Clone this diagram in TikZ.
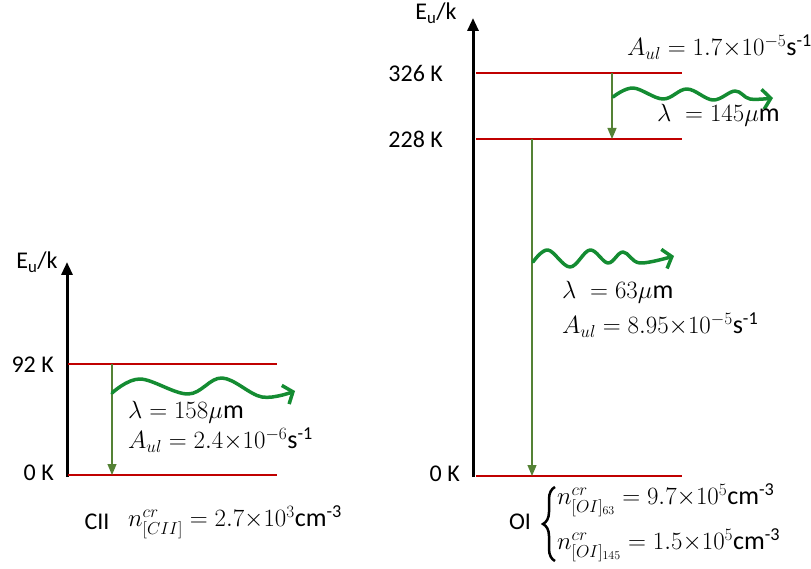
\documentclass[tikz,border=0pt]{standalone}
\usepackage{amsmath}
\usepackage{fontspec}
\setmainfont{Carlito}
\usetikzlibrary{arrows.meta}
\usetikzlibrary{decorations.pathreplacing}
\definecolor{levelred}{RGB}{192,0,0}
\definecolor{decaygreen}{RGB}{84,130,53}
\definecolor{photongreen}{RGB}{20,140,50}

\begin{document}
\begin{tikzpicture}[x=1pt, y=-1pt,
    level/.style={levelred, line width=1.5pt},
    axis/.style={line width=3pt, -{Triangle[length=13pt,width=11pt]}},
    decay/.style={decaygreen, line width=1.2pt, -{Triangle[length=11pt,width=9pt]}},
    photon/.style={photongreen, line width=3.5pt, line cap=round, line join=round,
                   -{Straight Barb[length=8pt,width=20pt,line width=3.5pt]}},
    lbl/.style={font=\fontsize{24}{28}\selectfont, inner sep=0pt},
    mlbl/.style={font=\fontsize{26}{30}\selectfont, inner sep=0pt, anchor=west}]
    \useasboundingbox (0,0) rectangle (811,569);

    % CII axis and levels
    \coordinate (cBot) at (67,477);
    \coordinate (cTop) at (67,262);
    \draw[axis] (cBot) -- (cTop);
    \coordinate (c92L) at (68,364);
    \coordinate (c92R) at (277,364);
    \coordinate (c0L) at (68,475);
    \coordinate (c0R) at (277,475);
    \draw[level] (c92L) -- (c92R);
    \draw[level] (c0L) -- (c0R);

    % CII transition
    \coordinate (c92d) at (112,364);
    \coordinate (c0d) at (112,475);
    \draw[decay] (c92d) -- (c0d);
    \coordinate (cWave) at (112,393);
    \draw[photon] plot[smooth, tension=0.6] coordinates
        {(cWave) (140,379) (188,394) (222,378) (262,397) (295,391)};

    % CII labels
    \node[lbl] (cEu) at (37,262) {E\textsubscript{u}/k};
    \node[lbl, anchor=east] (c92lab) at (54,365) {92 K};
    \node[lbl, anchor=east] (c0lab) at (54,473) {0 K};
    \node[mlbl] (cLam) at (128,412) {$\lambda = 158\mu\mathrm{m}$};
    \node[mlbl] (cAul) at (128,440) {$A_{ul} = 2.4{\times}10^{-6}$s\textsuperscript{-1}};
    \node[lbl] (cName) at (97,522) {CII};
    \node[mlbl] (cCrit) at (128,522) {$n^{cr}_{[CII]} = 2.7{\times}10^{3}$cm\textsuperscript{-3}};

    % OI axis and levels
    \coordinate (oBot) at (473,477);
    \coordinate (oTop) at (473,18);
    \draw[axis] (oBot) -- (oTop);
    \coordinate (o326L) at (476,73);
    \coordinate (o326R) at (682,73);
    \coordinate (o228L) at (476,139);
    \coordinate (o228R) at (682,139);
    \coordinate (o0L) at (476,476);
    \coordinate (o0R) at (682,476);
    \draw[level] (o326L) -- (o326R);
    \draw[level] (o228L) -- (o228R);
    \draw[level] (o0L) -- (o0R);

    % OI transitions
    \coordinate (o326d) at (612,73);
    \coordinate (o228d) at (612,139);
    \draw[decay] (o326d) -- (o228d);
    \coordinate (o228s) at (532,139);
    \coordinate (o0d) at (532,476);
    \draw[decay] (o228s) -- (o0d);
    \coordinate (oWaveA) at (613,97);
    \draw[photon] plot[smooth, tension=0.6] coordinates
        {(oWaveA) (633,88) (663,99) (687,89) (713,100) (735,91) (750,99) (773,98)};
    \coordinate (oWaveB) at (533,262);
    \draw[photon] plot[smooth, tension=0.6] coordinates
        {(oWaveB) (548,250) (570,267) (590,250) (608,263) (623,252) (640,263) (674,256)};

    % OI labels
    \node[lbl] (oEu) at (436,13) {E\textsubscript{u}/k};
    \node[lbl, anchor=east] (o326lab) at (443,73) {326 K};
    \node[lbl, anchor=east] (o228lab) at (443,139) {228 K};
    \node[lbl, anchor=east] (o0lab) at (460,474) {0 K};
    \node[mlbl] (oAulA) at (627,47) {$A_{ul} = 1.7{\times}10^{-5}$s\textsuperscript{-1}};
    \node[mlbl] (oLamA) at (657,115) {$\lambda\; = 145\mu\mathrm{m}$};
    \node[mlbl] (oLamB) at (562,292) {$\lambda\; = 63\mu\mathrm{m}$};
    \node[mlbl] (oAulB) at (562,325) {$A_{ul} = 8.95{\times}10^{-5}$s\textsuperscript{-1}};

    % OI critical densities
    \node[lbl] (oName) at (520,522) {OI};
    \coordinate (oBrB) at (555,561);
    \coordinate (oBrT) at (555,487);
    \draw[line width=2.5pt, decorate, decoration={brace, amplitude=12pt}] (oBrB) -- (oBrT);
    \node[mlbl] (oCritA) at (557,500) {$n^{cr}_{[OI]_{63}} = 9.7{\times}10^{5}$cm\textsuperscript{-3}};
    \node[mlbl] (oCritB) at (557,545) {$n^{cr}_{[OI]_{145}} = 1.5{\times}10^{5}$cm\textsuperscript{-3}};
\end{tikzpicture}
\end{document}
